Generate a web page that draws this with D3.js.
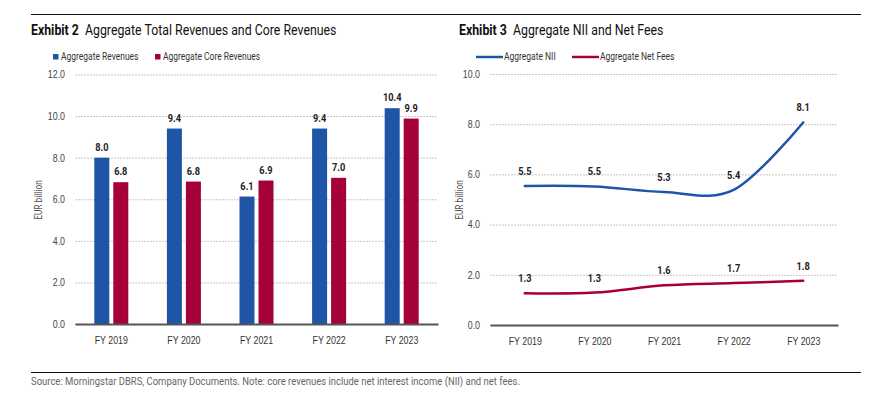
<!DOCTYPE html>
<html><head><meta charset="utf-8">
<script src="https://cdn.jsdelivr.net/npm/d3@7"></script>
<style>
html,body{margin:0;padding:0;background:#fff;}
svg{display:block;font-family:Roboto,"Liberation Sans",sans-serif;}
</style></head>
<body>
<svg id="c" width="872" height="396"></svg>
<script>
const categories = ["FY 2019","FY 2020","FY 2021","FY 2022","FY 2023"];
const totalRevenues = [8.0, 9.4, 6.13, 9.4, 10.38];
const coreRevenues = [6.82, 6.85, 6.9, 7.03, 9.88];
const nii = [5.54, 5.52, 5.30, 5.38, 8.07];
const netFees = [1.26, 1.29, 1.58, 1.67, 1.76];
const leftTicks = [0, 2, 4, 6, 8, 10, 12];
const rightTicks = [0, 2, 4, 6, 8, 10];
const seriesNames = {bars:["Aggregate Revenues","Aggregate Core Revenues"], lines:["Aggregate NII","Aggregate Net Fees"]};

const BLUE = "#1f55a6", RED = "#a6003a";
const SQ = 0.84; // horizontal condensing to mimic a condensed typeface
const svg = d3.select("#c");
const fmt = d3.format(".1f");

// rules
svg.append("line").attr("x1",31).attr("x2",861).attr("y1",14.5).attr("y2",14.5).attr("stroke","#111").attr("stroke-width",1);
svg.append("line").attr("x1",31).attr("x2",861).attr("y1",372.5).attr("y2",372.5).attr("stroke","#111").attr("stroke-width",1);

function title(x, bold, rest){
  const t = svg.append("text").attr("x",x).attr("y",35).attr("font-size",14.7).attr("fill","#111");
  t.append("tspan").attr("font-weight","bold").text(bold);
  t.append("tspan").attr("dx",6).text(rest);
}
title(31,"Exhibit 2","Aggregate Total Revenues and Core Revenues");
title(459,"Exhibit 3","Aggregate NII and Net Fees");

svg.append("text").attr("x",31).attr("y",385).attr("font-size",11.3).attr("fill","#666")
  .text("Source: Morningstar DBRS, Company Documents. Note: core revenues include net interest income (NII) and net fees.");

// ---------- Left chart ----------
const xL = d3.scaleBand().domain(categories).range([75,438]);
const yL = d3.scaleLinear().domain([0,12]).range([324,74.5]);
const gL = svg.append("g");
const axL = gL.append("g").attr("transform","translate(75,0)")
  .call(d3.axisLeft(yL).tickValues(leftTicks).tickFormat(fmt).tickSize(-363).tickPadding(10));
axL.select(".domain").remove();
axL.selectAll(".tick line").attr("stroke","#c8c8c8").attr("stroke-dasharray","2,1");
axL.selectAll(".tick text").attr("font-size",10.5).attr("fill","#444").attr("font-family","inherit");

const barW = 15, gap = 4;
const groups = gL.selectAll("g.grp").data(categories).join("g").attr("class","grp");
groups.append("rect")
  .attr("x",(d,i)=>xL(d)+xL.bandwidth()/2-gap/2-barW)
  .attr("y",(d,i)=>yL(totalRevenues[i])).attr("width",barW)
  .attr("height",(d,i)=>yL(0)-yL(totalRevenues[i])).attr("fill",BLUE);
groups.append("rect")
  .attr("x",(d,i)=>xL(d)+xL.bandwidth()/2+gap/2)
  .attr("y",(d,i)=>yL(coreRevenues[i])).attr("width",barW)
  .attr("height",(d,i)=>yL(0)-yL(coreRevenues[i])).attr("fill",RED);
groups.append("text")
  .attr("x",(d,i)=>xL(d)+xL.bandwidth()/2-gap/2-barW/2)
  .attr("y",(d,i)=>yL(totalRevenues[i])-7).attr("text-anchor","middle")
  .attr("font-size",11).attr("font-weight","bold").attr("fill","#222")
  .text((d,i)=>fmt(totalRevenues[i]));
groups.append("text")
  .attr("x",(d,i)=>xL(d)+xL.bandwidth()/2+gap/2+barW/2)
  .attr("y",(d,i)=>yL(coreRevenues[i])-7).attr("text-anchor","middle")
  .attr("font-size",11).attr("font-weight","bold").attr("fill","#222")
  .text((d,i)=>fmt(coreRevenues[i]));

const xaL = gL.append("g").attr("transform","translate(0,324)")
  .call(d3.axisBottom(xL).tickSize(0).tickPadding(13));
xaL.select(".domain").attr("stroke","#555").attr("stroke-width",2);
xaL.selectAll(".tick text").attr("font-size",10.5).attr("fill","#333").attr("font-family","inherit");

gL.append("text").attr("transform","translate(42,200) rotate(-90)").attr("text-anchor","middle")
  .attr("font-size",10).attr("fill","#555").text("EUR billion");

// legend left
const legL = [[53,seriesNames.bars[0],BLUE],[155,seriesNames.bars[1],RED]];
legL.forEach(([x,name,c])=>{
  svg.append("rect").attr("x",x).attr("y",54).attr("width",5.5).attr("height",5.5).attr("fill",c);
  svg.append("text").attr("x",x+8).attr("y",60.5).attr("font-size",10.1).attr("fill","#333").text(name);
});

// ---------- Right chart ----------
const xR = d3.scalePoint().domain(categories).range([490,838]).padding(0.5);
const yR = d3.scaleLinear().domain([0,10]).range([325,74]);
const gR = svg.append("g");
const axR = gR.append("g").attr("transform","translate(490,0)")
  .call(d3.axisLeft(yR).tickValues(rightTicks).tickFormat(fmt).tickSize(-348).tickPadding(10));
axR.select(".domain").remove();
axR.selectAll(".tick line").attr("stroke","#c8c8c8").attr("stroke-dasharray","2,1");
axR.selectAll(".tick text").attr("font-size",10.5).attr("fill","#444").attr("font-family","inherit");

const xaR = gR.append("g").attr("transform","translate(0,325)")
  .call(d3.axisBottom(xR).tickSize(0).tickPadding(13));
xaR.select(".domain").attr("stroke","#555").attr("stroke-width",2);
xaR.selectAll(".tick text").attr("font-size",10.5).attr("fill","#333").attr("font-family","inherit");

gR.append("text").attr("transform","translate(463,200) rotate(-90)").attr("text-anchor","middle")
  .attr("font-size",10).attr("fill","#555").text("EUR billion");

const line = d3.line().x((d,i)=>xR(categories[i])).y(d=>yR(d)).curve(d3.curveCardinal.tension(0));
[[nii,BLUE],[netFees,RED]].forEach(([vals,c])=>{
  gR.append("path").datum(vals).attr("d",line).attr("fill","none").attr("stroke",c).attr("stroke-width",2.5).attr("stroke-linecap","round");
  gR.selectAll(null).data(vals).join("text")
    .attr("x",(d,i)=>xR(categories[i])).attr("y",d=>yR(d)-11).attr("text-anchor","middle")
    .attr("font-size",11).attr("font-weight","bold").attr("fill","#222").text(d=>fmt(d));
});

// legend right
const legR = [[476,seriesNames.lines[0],BLUE],[572,seriesNames.lines[1],RED]];
legR.forEach(([x,name,c])=>{
  svg.append("line").attr("x1",x).attr("x2",x+27).attr("y1",57).attr("y2",57).attr("stroke",c).attr("stroke-width",2.5);
  svg.append("text").attr("x",x+28).attr("y",60.5).attr("font-size",10.1).attr("fill","#333").text(name);
});

// condense every text horizontally, keeping its anchor position
svg.selectAll("text").each(function(){
  const el = d3.select(this);
  const x = +(el.attr("x") || 0);
  el.attr("x", x / SQ);
  el.selectAll("tspan").each(function(){
    const t = d3.select(this); const dx = t.attr("dx");
    if (dx) t.attr("dx", +dx / SQ);
  });
  const tr = el.attr("transform");
  el.attr("transform", (tr ? tr + " " : "") + `scale(${SQ},1)`);
});
</script>
</body></html>
